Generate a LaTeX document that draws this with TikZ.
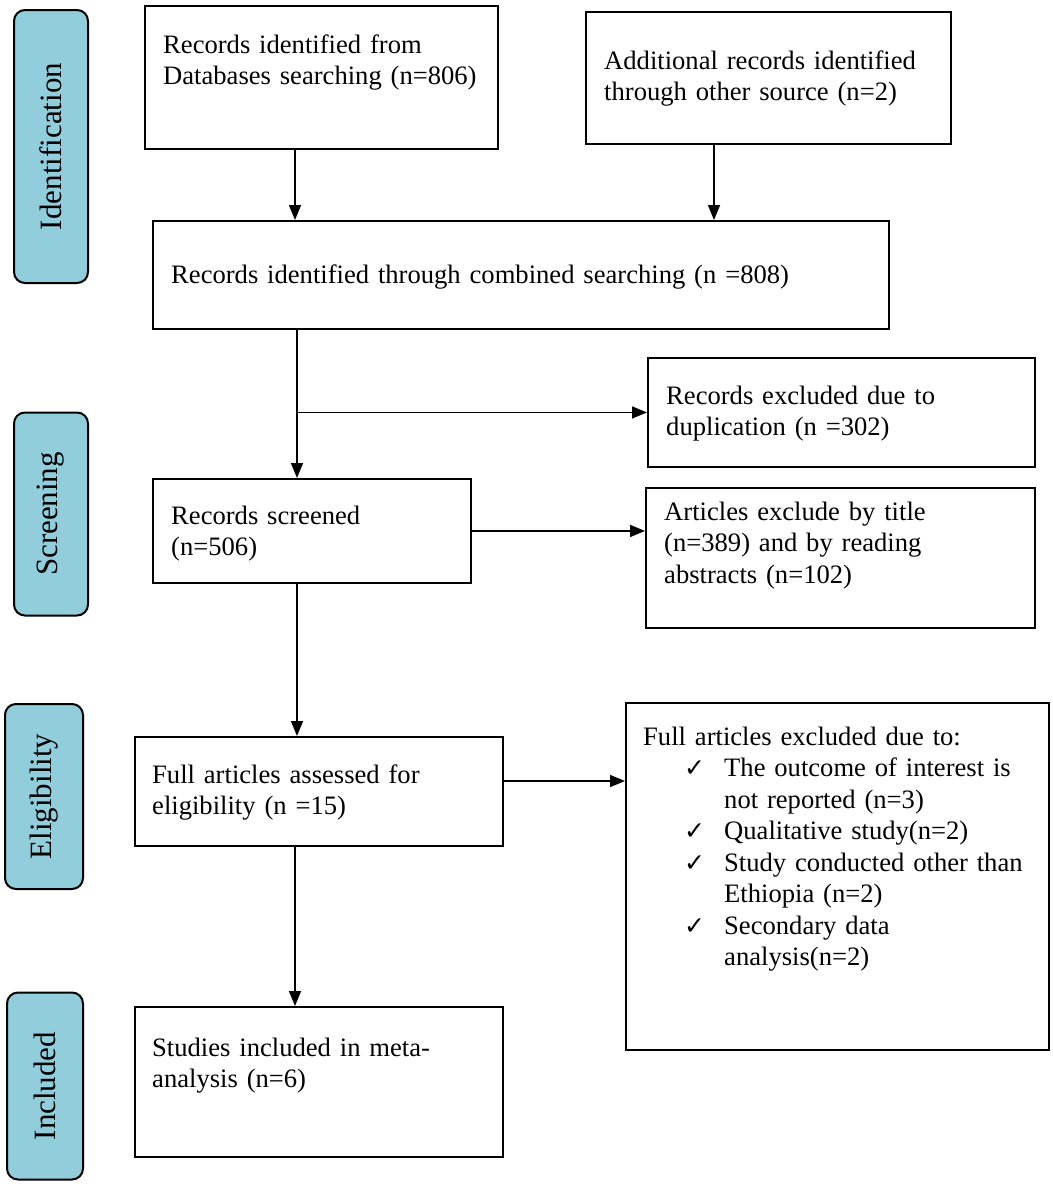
\documentclass[tikz,border=0pt]{standalone}
\usepackage{fontspec}
\setmainfont{Liberation Serif}
\newfontfamily\symfont{DejaVu Sans}
\usetikzlibrary{arrows.meta,calc}
\definecolor{sidefill}{HTML}{92CDDC}
\newcommand{\chk}{{\symfont\fontsize{25}{25}\selectfont ✓}}
\newcommand{\itm}[1]{\hspace*{41pt}\makebox[40pt][l]{\chk}#1}
\newcommand{\cnt}[1]{\hspace*{81pt}#1}
\begin{document}
\begin{tikzpicture}[x=1pt,y=1pt,
 box/.style={draw=black,line width=1.9pt,anchor=north west,inner sep=0pt},
 side/.style={draw=black,line width=2pt,fill=sidefill,rounded corners=11pt,rotate=90,inner sep=0pt,font=\fontsize{31}{31}\selectfont},
 txt/.style={anchor=base west,inner sep=0pt,align=left,text width=#1,font=\fontsize{26.6}{31.5}\selectfont},
 txt/.default=420pt,
 arr/.style={line width=1.5pt,-{Triangle[length=15pt,width=12pt]}},
]
\useasboundingbox (0,0) rectangle (1053,-1187);
% side labels
\node[side,minimum width=273pt,minimum height=74pt] (sid) at (51,-146.5) {Identification};
\node[side,minimum width=203pt,minimum height=74pt] (sscr) at (51,-514) {Screening};
\node[side,minimum width=185pt,minimum height=78pt] (selg) at (44,-796.5) {Eligibility};
\node[side,minimum width=187pt,minimum height=76pt] (sinc) at (45,-1086) {Included};
% boxes
\node[box,minimum width=353pt,minimum height=143pt] (A) at (144,-5) {};
\node[box,minimum width=365pt,minimum height=132pt] (B) at (585,-11) {};
\node[box,minimum width=736pt,minimum height=108pt] (C) at (152,-220) {};
\node[box,minimum width=387pt,minimum height=109pt] (D) at (647,-357) {};
\node[box,minimum width=318pt,minimum height=104pt] (E) at (152,-478) {};
\node[box,minimum width=389pt,minimum height=140pt] (F) at (645,-487) {};
\node[box,minimum width=368pt,minimum height=109pt] (G) at (134,-736) {};
\node[box,minimum width=423pt,minimum height=347pt] (H) at (625,-702) {};
\node[box,minimum width=368pt,minimum height=150pt] (I) at (134,-1006) {};
% texts
\node[txt] (tA) at (163,-53) {Records identified from\\Databases searching (n=806)};
\node[txt] (tB) at (604,-69) {Additional records identified\\through other source (n=2)};
\node[txt=720pt] (tC) at (171,-283) {Records identified through combined searching (n =808)};
\node[txt] (tD) at (666,-404) {Records excluded due to\\duplication (n =302)};
\node[txt] (tE) at (171,-524) {Records screened\\(n=506)};
\node[txt] (tF) at (664,-520) {Articles exclude by title\\(n=389) and by reading\\abstracts (n=102)};
\node[txt] (tG) at (152,-783) {Full articles assessed for\\eligibility (n =15)};
\node[txt] (tH) at (643,-745) {Full articles excluded due to:\\
\itm{The outcome of interest is}\\
\cnt{not reported (n=3)}\\
\itm{Qualitative study(n=2)}\\
\itm{Study conducted other than}\\
\cnt{Ethiopia (n=2)}\\
\itm{Secondary data}\\
\cnt{analysis(n=2)}};
\node[txt] (tI) at (152,-1056) {Studies included in meta-\\analysis (n=6)};
% connectors
\coordinate (xa) at (295,0);
\coordinate (xb) at (714,0);
\coordinate (xc) at (297,0);
\coordinate (yg) at (0,-781);
\coordinate (br) at (xc |- D.west);
\draw[arr] (A.south -| xa) -- (C.north -| xa);
\draw[arr] (B.south -| xb) -- (C.north -| xb);
\draw[arr] (C.south -| xc) -- (E.north -| xc);
\draw[arr] (br) -- (D.west);
\draw[arr] (E.east) -- (E.east -| F.west);
\draw[arr] (E.south -| xc) -- (G.north -| xc);
\draw[arr] (G.east |- yg) -- (H.west |- yg);
\draw[arr] (G.south -| xa) -- (I.north -| xa);
\end{tikzpicture}
\end{document}
